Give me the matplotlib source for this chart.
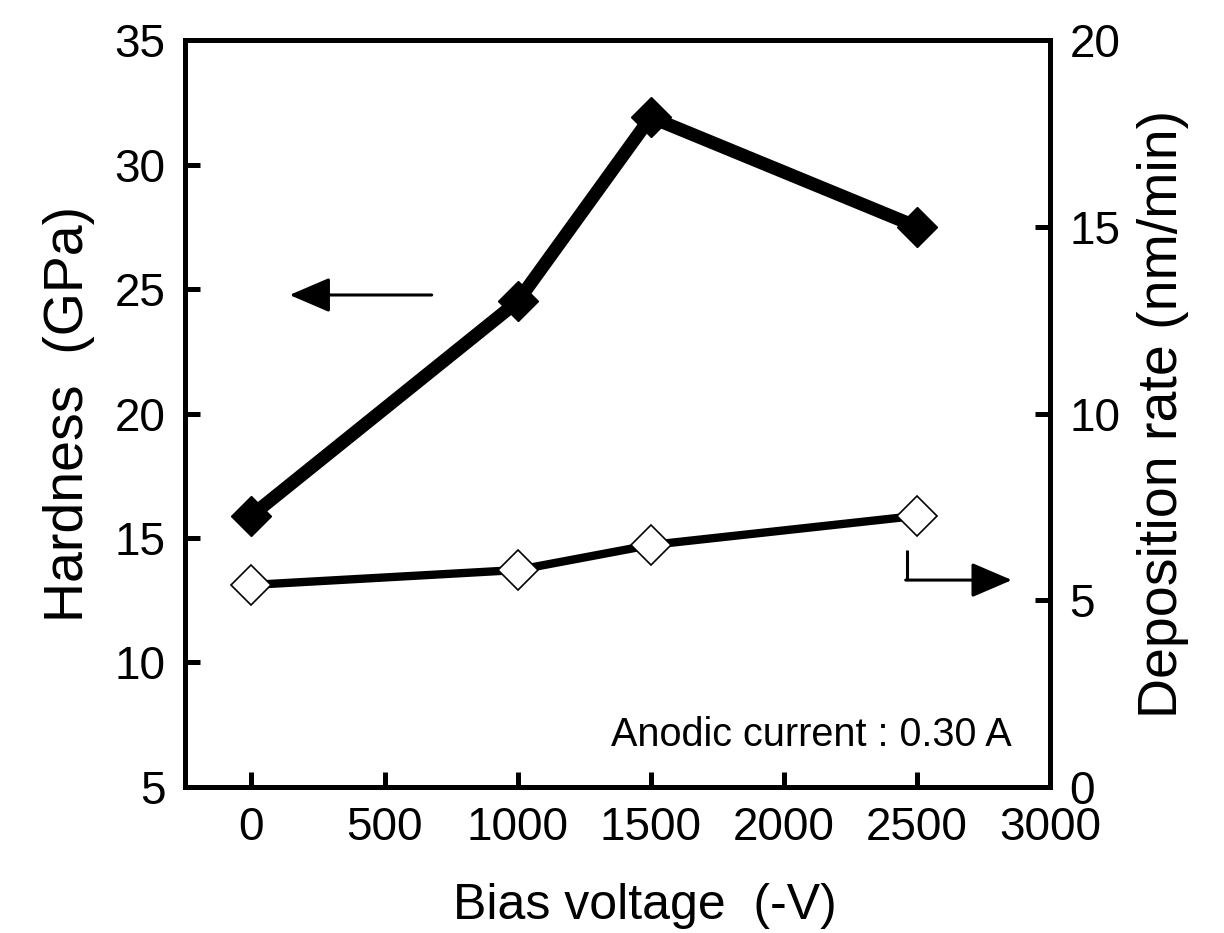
import matplotlib
matplotlib.use("Agg")
import matplotlib.pyplot as plt

plt.rcParams['font.family'] = ['Liberation Sans', 'DejaVu Sans']

bias = [0, 1000, 1500, 2500]
hardness = [15.9, 24.5, 31.9, 27.5]
dep_rate = [5.41, 5.81, 6.48, 7.26]

x_ticks = [0, 500, 1000, 1500, 2000, 2500, 3000]
left_ticks = [5, 10, 15, 20, 25, 30, 35]
right_ticks = [0, 5, 10, 15, 20]

fig = plt.figure(figsize=(12.24, 9.33), dpi=100)
ax = fig.add_axes([0.1511, 0.1565, 0.8578 - 0.1511, 0.9571 - 0.1565])
ax2 = ax.twinx()

ax.plot(bias, hardness, color='black', lw=9.5, marker='D', ms=20,
        mfc='black', mec='black', mew=1, solid_joinstyle='miter', zorder=3)
ax2.plot(bias, dep_rate, color='black', lw=6, marker='D', ms=20,
         mfc='white', mec='black', mew=1.2, zorder=3)

ax.set_xlim(-250, 3000)
ax.set_ylim(5, 35)
ax2.set_ylim(0, 20)
ax.set_xticks(x_ticks)
ax.set_yticks(left_ticks)
ax2.set_yticks(right_ticks)

for a in (ax, ax2):
    for s in a.spines.values():
        s.set_linewidth(3.6)

ax.tick_params(axis='both', direction='in', length=11, width=3.6, labelsize=33)
ax.tick_params(axis='x', pad=14)
ax.tick_params(axis='y', pad=14)
ax2.tick_params(axis='y', direction='in', length=11, width=3.6, labelsize=33, pad=14)

ax.set_xlabel('Bias voltage  (-V)', fontsize=36)
ax.xaxis.set_label_coords(0.532, -0.128)
ax.set_ylabel('Hardness  (GPa)', fontsize=40, labelpad=14)
ax2.set_ylabel('Deposition rate (nm/min)', fontsize=40, labelpad=12)

arrow_style = dict(arrowstyle='-|>,head_length=1.4,head_width=0.6',
                   mutation_scale=18, color='black', lw=2.2,
                   shrinkA=0, shrinkB=0)
# left-pointing arrow for hardness
ax.annotate('', xy=(143, 24.76), xytext=(677, 24.76), arrowprops=arrow_style)
# L-shaped arrow for deposition rate
ax2.plot([2462, 2462], [6.35, 5.54], color='black', lw=2.2, solid_capstyle='butt')
ax2.annotate('', xy=(2857, 5.54), xytext=(2458, 5.54), arrowprops=arrow_style)

ax.text(0.956, 0.07, 'Anodic current : 0.30 A', transform=ax.transAxes,
        ha='right', va='center', fontsize=28.5)

fig.savefig('out.png', dpi=100)
